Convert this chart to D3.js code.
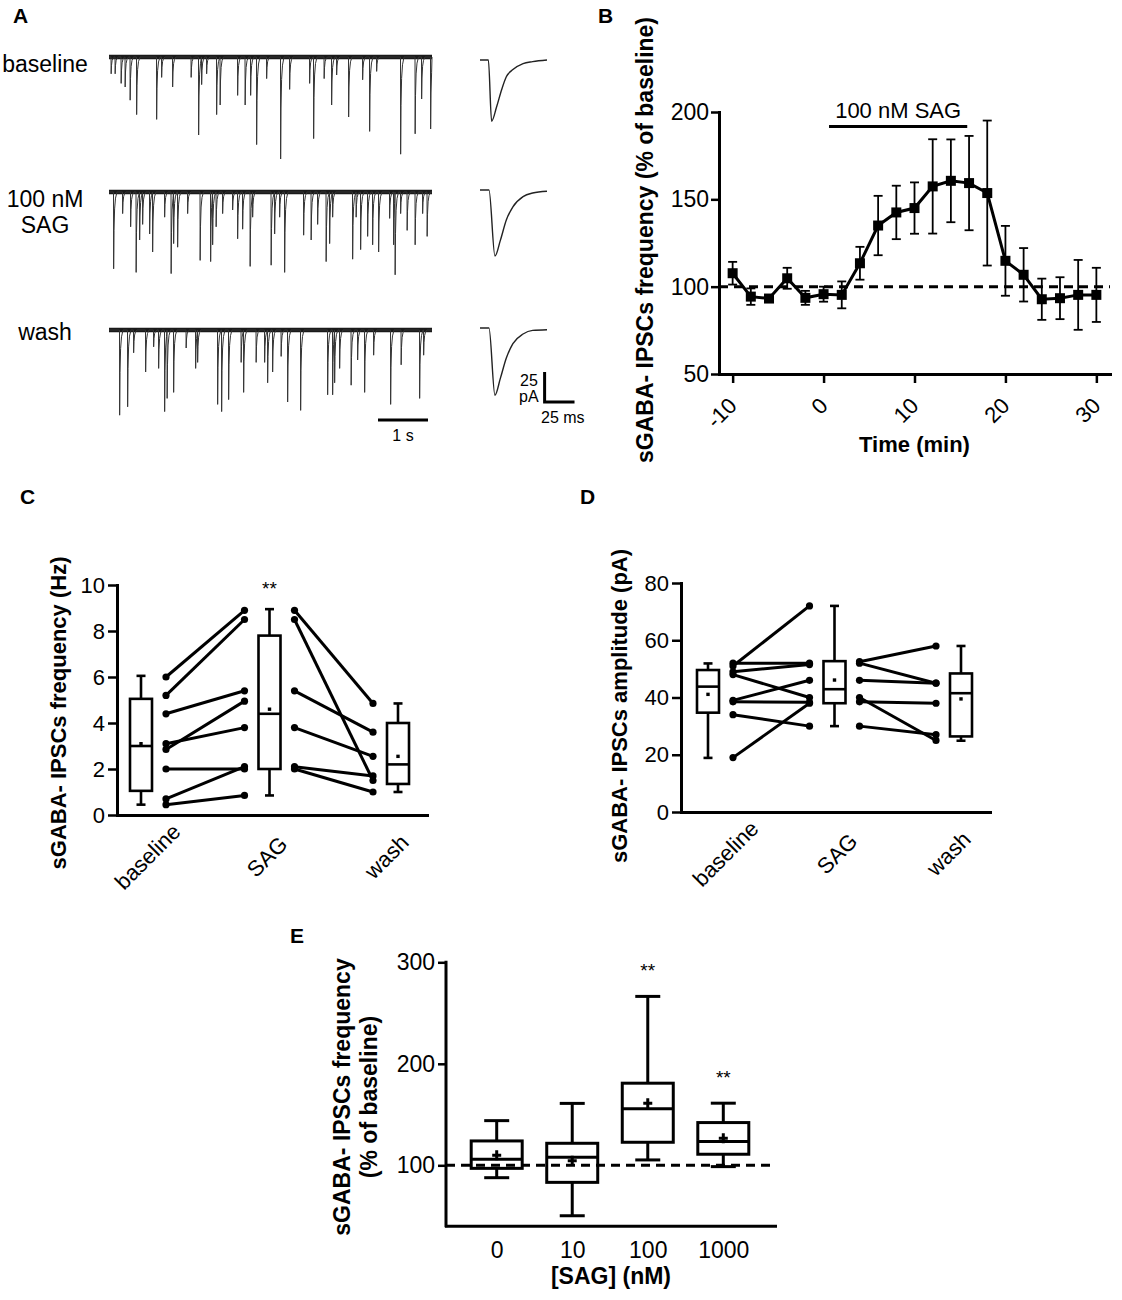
<!DOCTYPE html>
<html>
<head>
<meta charset="utf-8">
<title>SAG increases sGABA-IPSC frequency</title>
<script src="https://d3js.org/d3.v7.min.js"></script>
<style>
    body { margin: 0; background: #fff; }
    svg text { font-family: "Liberation Sans", Arial, Helvetica, sans-serif; fill: #000; }
    .panel { font-weight: bold; }
    .title { font-weight: bold; }
</style>
</head>
<body>
<svg width="1122" height="1300"></svg>
<script>
// ---------- data ----------
// A: spontaneous events, [time (s), amplitude (pA)]
const evBaseline = [[0.04,14],[0.12,14],[0.24,22],[0.32,25],[0.42,36],[0.55,48],[0.95,52],[1.05,17],[1.27,25],[1.64,17],[1.79,65],[1.85,23],[1.95,14],[2.15,48],[2.22,40],[2.57,32],[2.72,40],[2.83,32],[2.95,73],[3.15,18],[3.43,85],[3.61,27],[4.01,22],[4.09,68],[4.30,18],[4.45,40],[4.55,15],[4.79,50],[5.07,19],[5.21,62],[5.35,12],[5.83,81],[6.12,64],[6.25,35],[6.43,60]];
const evSag = [[0.09,64],[0.27,18],[0.43,29],[0.54,67],[0.61,40],[0.67,27],[0.81,35],[0.87,50],[1.11,21],[1.24,68],[1.29,43],[1.37,46],[1.57,18],[1.82,57],[2.03,58],[2.07,44],[2.14,29],[2.27,18],[2.47,15],[2.57,39],[2.67,31],[2.82,62],[2.87,21],[3.24,61],[3.31,35],[3.41,21],[3.51,67],[3.89,36],[4.04,40],[4.17,27],[4.34,58],[4.41,43],[4.47,21],[4.87,56],[4.94,21],[5.03,48],[5.17,37],[5.27,44],[5.39,50],[5.61,22],[5.69,44],[5.72,69],[5.83,18],[5.96,32],[6.12,44],[6.27,18],[6.36,37]];
const evWash = [[0.21,71],[0.37,64],[0.49,19],[0.73,35],[0.89,14],[0.99,32],[1.11,68],[1.16,57],[1.29,52],[1.54,15],[1.73,32],[1.77,27],[2.17,62],[2.25,68],[2.39,58],[2.64,27],[2.69,52],[2.94,27],[3.11,27],[3.17,44],[3.27,35],[3.44,22],[3.57,60],[3.83,67],[4.37,54],[4.47,54],[4.51,44],[4.61,32],[4.84,46],[4.97,25],[5.11,52],[5.29,21],[5.63,62],[5.84,29],[6.21,57],[6.29,21]];
// shape of a single event, [ms after onset, fraction of amplitude]
const eventShape = [[0,0],[3,-1],[10,-0.5],[22,-0.22],[40,-0.08],[70,0]];
// averaged events, [ms, pA]
const avgBaseline = [[0,0],[7,0],[9.7,-51],[13.9,-39],[18,-25],[22,-14],[27.5,-8],[36,-3],[44,-1.4],[56,0]];
const avgSag = [[0,0],[7.5,0],[12.5,-55],[17,-42],[22,-25],[27.5,-14],[36,-5.5],[44,-2.5],[56,-1]];
const avgWash = [[0,0],[7.5,0],[12.5,-56],[17,-42],[22,-25],[27.5,-13],[36,-5],[44,-2],[56,-1.4]];
const traceNames = [["baseline"], ["100 nM", "SAG"], ["wash"]];

// B: time course
const timeMin = [-10,-8,-6,-4,-2,0,2,4,6,8,10,12,14,16,18,20,22,24,26,28,30];
const freqPct = [107.7,94.3,93.2,104.8,93.6,95.7,95.3,113.4,135,142.5,145,157.4,160.6,159.3,153.6,114.8,106.8,92.8,93.4,95.3,95.3];
const freqSem = [6.5,4.7,2,6,4,4.3,7.7,9.4,17,15.3,14.7,27,23.7,27,41.5,20,15.3,11.8,12,20,15.5];
const sagBar = [0.6, 15.8];
const timeTicks = [-10, 0, 10, 20, 30];

// C/D: conditions, boxes [min, q1, median, q3, max], means, paired cells
const conditions = ["baseline", "SAG", "wash"];
const freqBoxes = [[0.45,1.05,3.0,5.05,6.05],[0.85,2.0,4.4,7.8,8.95],[1.0,1.35,2.2,4.0,4.85]];
const freqMeans = [3.1, 4.6, 2.55];
const freqBaseSag = [[6.0,8.9],[5.2,8.5],[4.4,5.4],[2.85,4.95],[3.1,3.8],[2.0,2.0],[0.7,2.1],[0.45,0.85]];
const freqSagWash = [[8.9,4.85],[8.5,1.5],[5.4,3.6],[3.8,2.55],[2.1,1.7],[2.0,1.0]];
const freqStars = ["", "**", ""];
const freqTicks = [0, 2, 4, 6, 8, 10];

const ampBoxes = [[18.9,34.7,43.8,49.6,51.9],[30,38,42.9,52.7,72],[24.9,26.4,41.5,48.4,58]];
const ampMeans = [41.1, 46.1, 39.5];
const ampBaseSag = [[51,72],[52,52],[49,51.5],[48,40],[39,46],[38.5,38.3],[34,30],[19,38]];
const ampSagWash = [[52.5,58],[52,45],[46,45],[40,25],[38.5,38],[30,27]];
const ampTicks = [0, 20, 40, 60, 80];

// E: dose response
const doses = ["0", "10", "100", "1000"];
const doseBoxes = [[87.8,97,106,124,144],[50.3,83.2,107.9,121.7,161],[105.3,122.7,155.6,180.9,266.4],[98.7,110.9,123.4,142.1,161.2]];
const doseMeans = [110, 104.6, 161.2, 126.6];
const doseStars = ["", "", "**", "**"];
const doseTicks = [100, 200, 300];

// ---------- drawing ----------
const svg = d3.select("svg");
const FONT = "'Liberation Sans', Arial, sans-serif";

function styleAxis(g, size) {
    g.attr("font-family", FONT).attr("font-size", size);
    g.select(".domain").attr("stroke-width", 3).attr("stroke-linecap", "square");
    g.selectAll(".tick line").attr("stroke-width", 2.5);
    g.selectAll(".tick text").attr("fill", "#000");
}

function panelLabel(text, x, y) {
    svg.append("text").attr("class", "panel").attr("font-size", 21).attr("x", x).attr("y", y).text(text);
}

// ----- A -----
panelLabel("A", 13, 23);
const traceDur = 6.46;
const xT = d3.scaleLinear().domain([0, traceDur]).range([109, 432]);
const traceY0 = [57, 192, 330];
const avgY0 = [60, 190, 328];
const traceEvents = [evBaseline, evSag, evWash];
const avgTraces = [avgBaseline, avgSag, avgWash];

function tracePoints(events) {
    const pts = [[0, 0]];
    const sorted = events.slice().sort((a, b) => a[0] - b[0]);
    sorted.forEach(([te, a], i) => {
        const next = i + 1 < sorted.length ? sorted[i + 1][0] : traceDur;
        eventShape.forEach(([ms, f]) => {
            const t = te + ms / 1000;
            if (t < next && t <= traceDur) pts.push([t, a * f]);
        });
    });
    pts.push([traceDur, 0]);
    return pts;
}

const xA = d3.scaleLinear().domain([0, 56]).range([480, 547]);

traceEvents.forEach((events, i) => {
    const yT = d3.scaleLinear().domain([0, -100]).range([traceY0[i], traceY0[i] + 120]);
    // noise band of the baseline
    svg.append("line")
        .attr("x1", xT(0)).attr("x2", xT(traceDur))
        .attr("y1", yT(0)).attr("y2", yT(0))
        .attr("stroke", "#1a1a1a").attr("stroke-width", 4.5);
    svg.append("path")
        .datum(tracePoints(events))
        .attr("fill", "none").attr("stroke", "#333").attr("stroke-width", 1)
        .attr("d", d3.line().x(d => xT(d[0])).y(d => yT(d[1])));

    const yAv = d3.scaleLinear().domain([0, -25]).range([avgY0[i], avgY0[i] + 30]);
    svg.append("path")
        .datum(avgTraces[i])
        .attr("fill", "none").attr("stroke", "#222").attr("stroke-width", 1.4)
        .attr("d", d3.line().curve(d3.curveMonotoneX).x(d => xA(d[0])).y(d => yAv(d[1])));
});

const nameY = [72, 207, 340];
traceNames.forEach((lines, i) => {
    const t = svg.append("text").attr("x", 45).attr("y", nameY[i])
        .attr("text-anchor", "middle").attr("font-size", 23);
    lines.forEach((s, j) => t.append("tspan").attr("x", 45).attr("dy", j ? 26 : 0).text(s));
});

// 1 s scale bar
svg.append("line").attr("x1", xT(5.38)).attr("x2", xT(6.38)).attr("y1", 420).attr("y2", 420)
    .attr("stroke", "#000").attr("stroke-width", 3);
svg.append("text").attr("x", xT(5.88)).attr("y", 441).attr("text-anchor", "middle")
    .attr("font-size", 16).text("1 s");
// 25 pA / 25 ms scale bar
const yBar = d3.scaleLinear().domain([0, 25]).range([402, 372]);
svg.append("path")
    .attr("d", `M${xA(54)},${yBar(25)}V${yBar(0)}H${xA(79)}`)
    .attr("fill", "none").attr("stroke", "#000").attr("stroke-width", 3);
svg.append("text").attr("x", 520).attr("y", 386).attr("font-size", 16).text("25");
svg.append("text").attr("x", 519).attr("y", 402).attr("font-size", 16).text("pA");
svg.append("text").attr("x", 541).attr("y", 423).attr("font-size", 16).text("25 ms");

// ----- B -----
panelLabel("B", 598, 23);
const xB = d3.scaleLinear().domain([-11.5, 31.5]).range([719, 1110]);
const yB = d3.scaleLinear().domain([50, 200]).range([374, 112]);

svg.append("line")
    .attr("x1", xB.range()[0]).attr("x2", xB.range()[1])
    .attr("y1", yB(100)).attr("y2", yB(100))
    .attr("stroke", "#000").attr("stroke-width", 3).attr("stroke-dasharray", "9,6");

const gBx = svg.append("g").attr("transform", `translate(0,${yB(50)})`)
    .call(d3.axisBottom(xB).tickValues(timeTicks).tickSize(9).tickSizeOuter(0).tickFormat(d => String(d)));
styleAxis(gBx, 22);
gBx.selectAll(".tick text").attr("x", 0).attr("y", 0).attr("dy", 0)
    .attr("transform", "translate(5,33) rotate(-45)").style("text-anchor", "end");

const gBy = svg.append("g").attr("transform", `translate(${xB(-11.5)},0)`)
    .call(d3.axisLeft(yB).tickValues([50, 100, 150, 200]).tickSize(8).tickSizeOuter(0).tickPadding(2));
styleAxis(gBy, 23);

const bData = timeMin.map((t, i) => ({ t, v: freqPct[i], e: freqSem[i] }));
const errB = svg.append("g").attr("stroke", "#000").attr("stroke-width", 1.8);
bData.forEach(d => {
    const x = xB(d.t);
    errB.append("line").attr("x1", x).attr("x2", x).attr("y1", yB(d.v - d.e)).attr("y2", yB(d.v + d.e));
    errB.append("line").attr("x1", x - 4.5).attr("x2", x + 4.5).attr("y1", yB(d.v - d.e)).attr("y2", yB(d.v - d.e));
    errB.append("line").attr("x1", x - 4.5).attr("x2", x + 4.5).attr("y1", yB(d.v + d.e)).attr("y2", yB(d.v + d.e));
});
svg.append("path").datum(bData)
    .attr("fill", "none").attr("stroke", "#000").attr("stroke-width", 3)
    .attr("d", d3.line().x(d => xB(d.t)).y(d => yB(d.v)));
svg.append("g").selectAll("rect").data(bData).enter().append("rect")
    .attr("x", d => xB(d.t) - 5).attr("y", d => yB(d.v) - 5)
    .attr("width", 10).attr("height", 10).attr("fill", "#000");

const sagY = 126.5;
svg.append("line").attr("x1", xB(sagBar[0])).attr("x2", xB(sagBar[1]))
    .attr("y1", sagY).attr("y2", sagY).attr("stroke", "#000").attr("stroke-width", 3);
svg.append("text").attr("x", xB((sagBar[0] + sagBar[1]) / 2)).attr("y", sagY - 9)
    .attr("text-anchor", "middle").attr("font-size", 22).text("100 nM SAG");

svg.append("text").attr("class", "title").attr("font-size", 22)
    .attr("x", xB(10)).attr("y", 452).attr("text-anchor", "middle").text("Time (min)");
svg.append("text").attr("class", "title").attr("font-size", 23)
    .attr("transform", "translate(653,240) rotate(-90)").attr("text-anchor", "middle")
    .text("sGABA- IPSCs frequency (% of baseline)");

// ----- C & D -----
function drawPaired(cfg) {
    const y = d3.scaleLinear().domain(cfg.domain).range([cfg.bottom, cfg.top]);
    const xAxisS = d3.scaleLinear().domain([0, 1]).range([cfg.left, cfg.right]);
    const pos = d3.scaleLinear().domain([0, 2]).range(cfg.boxRange);
    const lab = d3.scalePoint().domain(conditions).range(cfg.labelRange);

    const gx = svg.append("g").attr("transform", `translate(0,${cfg.bottom})`)
        .call(d3.axisBottom(xAxisS).tickValues([]).tickSizeOuter(0));
    styleAxis(gx, 22);
    const gy = svg.append("g").attr("transform", `translate(${cfg.left},0)`)
        .call(d3.axisLeft(y).tickValues(cfg.ticks).tickSize(9).tickSizeOuter(0).tickPadding(3));
    styleAxis(gy, 22);

    const g = svg.append("g").attr("stroke", "#000").attr("stroke-width", 2.6).attr("fill", "none");
    cfg.boxes.forEach((b, i) => {
        const [mn, q1, md, q3, mx] = b;
        const cx = pos(i), w = 22;
        g.append("line").attr("x1", cx).attr("x2", cx).attr("y1", y(q3)).attr("y2", y(mx));
        g.append("line").attr("x1", cx).attr("x2", cx).attr("y1", y(q1)).attr("y2", y(mn));
        g.append("line").attr("x1", cx - 4.5).attr("x2", cx + 4.5).attr("y1", y(mx)).attr("y2", y(mx));
        g.append("line").attr("x1", cx - 4.5).attr("x2", cx + 4.5).attr("y1", y(mn)).attr("y2", y(mn));
        g.append("rect").attr("x", cx - w / 2).attr("y", y(q3)).attr("width", w).attr("height", y(q1) - y(q3)).attr("fill", "#fff");
        g.append("line").attr("x1", cx - w / 2).attr("x2", cx + w / 2).attr("y1", y(md)).attr("y2", y(md));
        svg.append("rect").attr("x", cx - 1.7).attr("y", y(cfg.means[i]) - 1.7).attr("width", 3.4).attr("height", 3.4).attr("fill", "#000");
        if (cfg.stars && cfg.stars[i]) {
            svg.append("text").attr("x", cx).attr("y", y(mx) - 14).attr("text-anchor", "middle")
                .attr("font-size", 19).text(cfg.stars[i]);
        }
    });

    [cfg.pairs1, cfg.pairs2].forEach((pairs, k) => {
        const xl = pos(k) + 25, xr = pos(k + 1) - 25;
        const gp = svg.append("g");
        pairs.forEach(p => {
            gp.append("line").attr("x1", xl).attr("x2", xr).attr("y1", y(p[0])).attr("y2", y(p[1]))
                .attr("stroke", "#000").attr("stroke-width", 3);
            gp.append("circle").attr("cx", xl).attr("cy", y(p[0])).attr("r", 3.6).attr("fill", "#000");
            gp.append("circle").attr("cx", xr).attr("cy", y(p[1])).attr("r", 3.6).attr("fill", "#000");
        });
    });

    conditions.forEach(c => {
        svg.append("text").attr("font-size", 22).attr("text-anchor", "middle")
            .attr("transform", `translate(${lab(c)},${cfg.bottom + 47}) rotate(-45)`).text(c);
    });

    svg.append("text").attr("class", "title").attr("font-size", 22).attr("text-anchor", "middle")
        .attr("transform", `translate(${cfg.titleX},${cfg.titleY}) rotate(-90)`).text(cfg.title);
}

panelLabel("C", 20, 504);
drawPaired({
    domain: [0, 10], top: 585, bottom: 815, left: 117, right: 427,
    boxRange: [141, 398], labelRange: [153, 392], ticks: freqTicks,
    boxes: freqBoxes, means: freqMeans, pairs1: freqBaseSag, pairs2: freqSagWash, stars: freqStars,
    title: "sGABA- IPSCs frequency (Hz)", titleX: 66, titleY: 713
});

panelLabel("D", 580, 504);
drawPaired({
    domain: [0, 80], top: 583, bottom: 812, left: 681, right: 990,
    boxRange: [708, 961], labelRange: [731, 954], ticks: ampTicks,
    boxes: ampBoxes, means: ampMeans, pairs1: ampBaseSag, pairs2: ampSagWash, stars: null,
    title: "sGABA- IPSCs amplitude (pA)", titleX: 627, titleY: 706
});

// ----- E -----
panelLabel("E", 290, 943);
const yE = d3.scaleLinear().domain([40.5, 300]).range([1225.7, 962.3]);
const xEaxis = d3.scaleLinear().domain([0, 1]).range([446, 775]);
const xE = d3.scalePoint().domain(doses).range([496.7, 723.3]);

const gEx = svg.append("g").attr("transform", `translate(0,${yE(40.5)})`)
    .call(d3.axisBottom(xEaxis).tickValues([]).tickSizeOuter(0));
styleAxis(gEx, 23);
const gEl = svg.append("g").attr("transform", `translate(0,${yE(40.5)})`)
    .call(d3.axisBottom(xE).tickSize(0).tickPadding(16));
styleAxis(gEl, 23);
gEl.select(".domain").remove();
const gEy = svg.append("g").attr("transform", `translate(${xEaxis(0)},0)`)
    .call(d3.axisLeft(yE).tickValues(doseTicks).tickSize(8).tickSizeOuter(0).tickPadding(3));
styleAxis(gEy, 23);
gEy.select(".domain").attr("d", `M0,${yE(300)}V${yE(40.5)}`);

const gE = svg.append("g").attr("stroke", "#000").attr("stroke-width", 3).attr("fill", "none");
doseBoxes.forEach((b, i) => {
    const [mn, q1, md, q3, mx] = b;
    const cx = xE(doses[i]), w = 51;
    gE.append("line").attr("x1", cx).attr("x2", cx).attr("y1", yE(q3)).attr("y2", yE(mx));
    gE.append("line").attr("x1", cx).attr("x2", cx).attr("y1", yE(q1)).attr("y2", yE(mn));
    gE.append("line").attr("x1", cx - 12.5).attr("x2", cx + 12.5).attr("y1", yE(mx)).attr("y2", yE(mx));
    gE.append("line").attr("x1", cx - 12.5).attr("x2", cx + 12.5).attr("y1", yE(mn)).attr("y2", yE(mn));
    gE.append("rect").attr("x", cx - w / 2).attr("y", yE(q3)).attr("width", w).attr("height", yE(q1) - yE(q3)).attr("fill", "#fff");
    gE.append("line").attr("x1", cx - w / 2).attr("x2", cx + w / 2).attr("y1", yE(md)).attr("y2", yE(md));
    const ym = yE(doseMeans[i]);
    gE.append("path").attr("d", `M${cx - 4.5},${ym}H${cx + 4.5}M${cx},${ym - 5}V${ym + 5}`).attr("stroke-width", 3);
    if (doseStars[i]) {
        svg.append("text").attr("x", cx).attr("y", yE(mx) - 19).attr("text-anchor", "middle")
            .attr("font-size", 19).text(doseStars[i]);
    }
});

svg.append("line")
    .attr("x1", xEaxis(0)).attr("x2", xEaxis(1)).attr("y1", yE(100)).attr("y2", yE(100))
    .attr("stroke", "#000").attr("stroke-width", 3).attr("stroke-dasharray", "9,6");

svg.append("text").attr("class", "title").attr("font-size", 23).attr("text-anchor", "middle")
    .attr("x", 611).attr("y", 1284).text("[SAG] (nM)");
const eTitle = svg.append("text").attr("class", "title").attr("font-size", 23).attr("text-anchor", "middle")
    .attr("transform", "translate(350,1097) rotate(-90)");
eTitle.append("tspan").attr("x", 0).attr("y", 0).text("sGABA- IPSCs frequency");
eTitle.append("tspan").attr("x", 0).attr("y", 27).text("(% of baseline)");
</script>
</body>
</html>
